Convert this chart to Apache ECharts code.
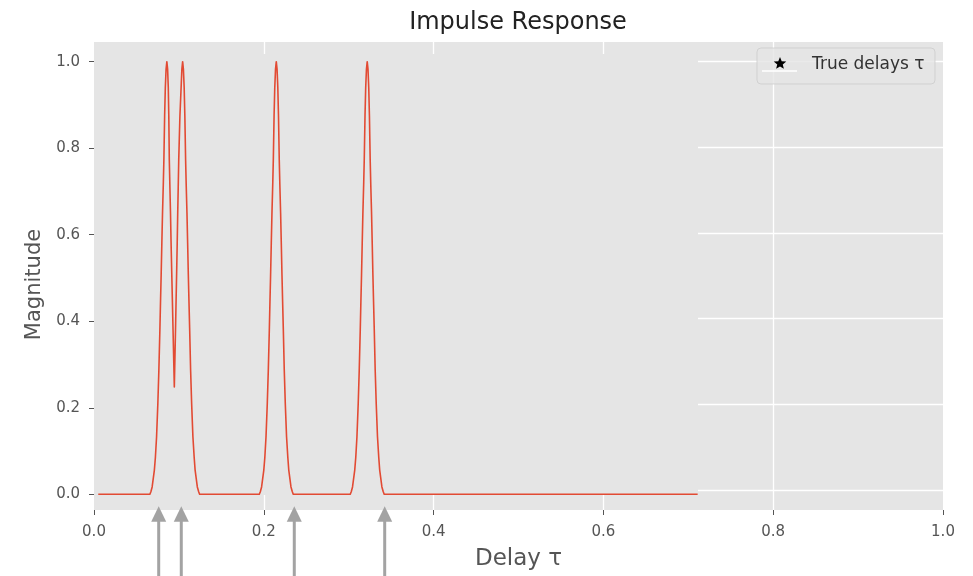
<!DOCTYPE html>
<html>
<head>
<meta charset="utf-8">
<script src="https://cdn.jsdelivr.net/npm/echarts@6/dist/echarts.min.js"></script>
<style>html,body{margin:0;padding:0;background:#fff}#c{width:973px;height:576px}</style>
</head>
<body>
<div id="c"></div>
<script>
// ---- data ----
// double peak (with leading baseline)
const pairDelay = [0.005, 0.0658, 0.0670, 0.0685, 0.0711, 0.0723, 0.0737, 0.0752, 0.0764, 0.0776, 0.0784, 0.0791, 0.0799, 0.0807, 0.0816, 0.0823, 0.0832, 0.0840, 0.0849, 0.0858,
  0.0867, 0.0875, 0.0881, 0.0887, 0.0894, 0.0901, 0.0908, 0.0915, 0.0923, 0.0931, 0.0946,
  0.0960, 0.0967, 0.0974, 0.0980, 0.0986, 0.0992, 0.0998, 0.1012, 0.1026, 0.1035, 0.1044,
  0.1053, 0.1062, 0.1070, 0.1079, 0.1086, 0.1095, 0.1103, 0.1111, 0.1118, 0.1127, 0.1138, 0.1150, 0.1165, 0.1180, 0.1191, 0.1217, 0.1233, 0.1244];
const pairMag = [0, 0, 0.006, 0.017, 0.056, 0.085, 0.133, 0.21, 0.287, 0.38, 0.45, 0.507, 0.58, 0.65, 0.715, 0.773, 0.875, 0.94, 0.983, 1.0,
  0.983, 0.94, 0.875, 0.773, 0.71, 0.65, 0.58, 0.518, 0.45, 0.38, 0.248,
  0.38, 0.45, 0.518, 0.58, 0.65, 0.71, 0.773, 0.875, 0.94, 0.983, 1.0,
  0.983, 0.94, 0.875, 0.773, 0.715, 0.65, 0.58, 0.507, 0.45, 0.38, 0.287, 0.21, 0.133, 0.085, 0.056, 0.017, 0.006, 0];
// third peak
const peak3Delay = [0.1947, 0.1959, 0.1974, 0.2000, 0.2012, 0.2026, 0.2041, 0.2053, 0.2065, 0.2073, 0.2080, 0.2088, 0.2096, 0.2105, 0.2112, 0.2121, 0.2129, 0.2138, 0.2147,
  0.2156, 0.2165, 0.2173, 0.2182, 0.2189, 0.2198, 0.2206, 0.2214, 0.2221, 0.2230, 0.2241, 0.2253, 0.2268, 0.2283, 0.2294, 0.2320, 0.2336, 0.2347];
const peak3Mag = [0, 0.006, 0.017, 0.056, 0.085, 0.133, 0.21, 0.287, 0.38, 0.45, 0.507, 0.58, 0.65, 0.715, 0.773, 0.875, 0.94, 0.983, 1.0,
  0.983, 0.94, 0.875, 0.773, 0.715, 0.65, 0.58, 0.507, 0.45, 0.38, 0.287, 0.21, 0.133, 0.085, 0.056, 0.017, 0.006, 0];
// fourth peak (with trailing baseline)
const peak4Delay = [0.3018, 0.3030, 0.3045, 0.3071, 0.3083, 0.3097, 0.3112, 0.3124, 0.3136, 0.3144, 0.3151, 0.3159, 0.3167, 0.3176, 0.3183, 0.3192, 0.3200, 0.3209, 0.3218,
  0.3227, 0.3236, 0.3244, 0.3253, 0.3260, 0.3269, 0.3277, 0.3285, 0.3292, 0.3301, 0.3312, 0.3324, 0.3339, 0.3354, 0.3365, 0.3391, 0.3407, 0.3418, 0.711];
const peak4Mag = [0, 0.006, 0.017, 0.056, 0.085, 0.133, 0.21, 0.287, 0.38, 0.45, 0.507, 0.58, 0.65, 0.715, 0.773, 0.875, 0.94, 0.983, 1.0,
  0.983, 0.94, 0.875, 0.773, 0.715, 0.65, 0.58, 0.507, 0.45, 0.38, 0.287, 0.21, 0.133, 0.085, 0.056, 0.017, 0.006, 0, 0];

const trueDelays = [0.0762, 0.1028, 0.2359, 0.3424];
const xTicks = [0.0, 0.2, 0.4, 0.6, 0.8, 1.0];
const yTicks = [0.0, 0.2, 0.4, 0.6, 0.8, 1.0];

const titleText = 'Impulse Response';
const xName = 'Delay τ';
const yName = 'Magnitude';
const legendText = 'True delays τ';

// ---- chart ----
const FONT = 'DejaVu Sans';
const outerY = [-0.0472, 1.0458];
const innerY = [-0.0016, 1.0178];
const innerX = [0, 0.7114];

function zip(xs, ys) { const n = Math.min(xs.length, ys.length); const out = []; for (let i = 0; i < n; i++) out.push([xs[i], ys[i]]); return out; }
const curve = [].concat(zip(pairDelay, pairMag), zip(peak3Delay, peak3Mag), zip(peak4Delay, peak4Mag));
const arrows = trueDelays.map(x => [x, outerY[0]]);

function starPoints(cx, cy, R, r) {
  const pts = [];
  for (let k = 0; k < 10; k++) {
    const a = -Math.PI / 2 + k * Math.PI / 5;
    const rad = k % 2 === 0 ? R : r;
    pts.push([cx + rad * Math.cos(a), cy + rad * Math.sin(a)]);
  }
  return pts;
}

const chart = echarts.init(document.getElementById('c'), null, {renderer: 'canvas'});
chart.setOption({
  animation: false,
  backgroundColor: '#ffffff',
  textStyle: {fontFamily: FONT},
  title: {
    text: titleText,
    left: 513, top: 6, textAlign: 'center',
    textStyle: {fontFamily: FONT, fontSize: 24, fontWeight: 'normal', color: '#222'}
  },
  grid: [
    {left: 94, right: 30, top: 42, bottom: 64, show: true, backgroundColor: '#E5E5E5', borderWidth: 0, z: 0},
    {left: 94, right: 275, top: 54, bottom: 81, show: true, backgroundColor: '#E5E5E5', borderWidth: 0, z: 1}
  ],
  xAxis: [
    {
      type: 'value', gridIndex: 0, min: 0, max: 1, interval: 0.2,
      name: xName, nameLocation: 'middle', nameGap: 38,
      nameTextStyle: {fontFamily: FONT, fontSize: 23, color: '#555'},
      axisLine: {show: false, onZero: false},
      axisTick: {show: true, length: 5, lineStyle: {color: '#555', width: 1}},
      axisLabel: {fontFamily: FONT, fontSize: 15, color: '#555', margin: 15, formatter: v => v.toFixed(1)},
      splitLine: {show: true, showMinLine: false, showMaxLine: false, lineStyle: {color: '#ffffff', width: 1.3}}
    },
    {
      type: 'value', gridIndex: 1, min: innerX[0], max: innerX[1], show: false,
      axisLine: {onZero: false},
      splitLine: {show: false}
    }
  ],
  yAxis: [
    {
      type: 'value', gridIndex: 0, min: outerY[0], max: outerY[1],
      axisLine: {show: false, onZero: false},
      axisTick: {show: false, customValues: yTicks},
      axisLabel: {show: false, customValues: yTicks},
      splitLine: {show: true, lineStyle: {color: '#ffffff', width: 1.3}}
    },
    {
      type: 'value', gridIndex: 1, min: innerY[0], max: innerY[1],
      name: yName, nameLocation: 'middle', nameGap: 48, nameRotate: 90,
      nameTextStyle: {fontFamily: FONT, fontSize: 21, color: '#555', padding: [0, 20, 0, 0]},
      axisLine: {show: false, onZero: false},
      axisTick: {show: true, length: 5, customValues: yTicks, lineStyle: {color: '#555', width: 1}},
      axisLabel: {fontFamily: FONT, fontSize: 15, color: '#555', margin: 14, customValues: yTicks, formatter: v => v.toFixed(1)},
      splitLine: {show: false}
    }
  ],
  series: [
    {
      name: 'Impulse response',
      type: 'line', xAxisIndex: 1, yAxisIndex: 1,
      data: curve, showSymbol: false, symbol: 'none',
      lineStyle: {color: '#E24A33', width: 1.6, join: 'round'},
      z: 3, silent: true
    },
    {
      name: legendText,
      type: 'custom', xAxisIndex: 0, yAxisIndex: 0,
      data: arrows, clip: false, z: 5, silent: true,
      renderItem: function (params, api) {
        const p = api.coord([api.value(0), api.value(1)]);
        const tipY = p[1] - 3.7;
        const H = api.getHeight();
        return {
          type: 'group',
          children: [
            {type: 'rect', shape: {x: p[0] - 1.5, y: tipY + 14, width: 3, height: H - tipY}, style: {fill: '#a3a3a3'}},
            {type: 'polygon', shape: {points: [[p[0], tipY], [p[0] - 7.5, tipY + 15.5], [p[0] + 7.5, tipY + 15.5]]}, style: {fill: '#a3a3a3'}}
          ]
        };
      }
    }
  ],
  graphic: [
    {type: 'rect', z: 20, shape: {x: 757, y: 48, width: 178, height: 36, r: 4},
      style: {fill: 'rgba(229,229,229,0.8)', stroke: 'rgba(204,204,204,0.8)', lineWidth: 1}},
    {type: 'line', z: 21, shape: {x1: 762, y1: 71, x2: 797, y2: 71}, style: {stroke: '#ffffff', lineWidth: 1.6}},
    {type: 'polygon', z: 22, shape: {points: starPoints(780, 63.5, 6.6, 2.9)}, style: {fill: '#000000'}},
    {type: 'text', z: 22, x: 812, y: 65, style: {text: legendText, font: '17px "DejaVu Sans"', fill: '#333', verticalAlign: 'middle', textAlign: 'left'}}
  ]
});
</script>
</body>
</html>
